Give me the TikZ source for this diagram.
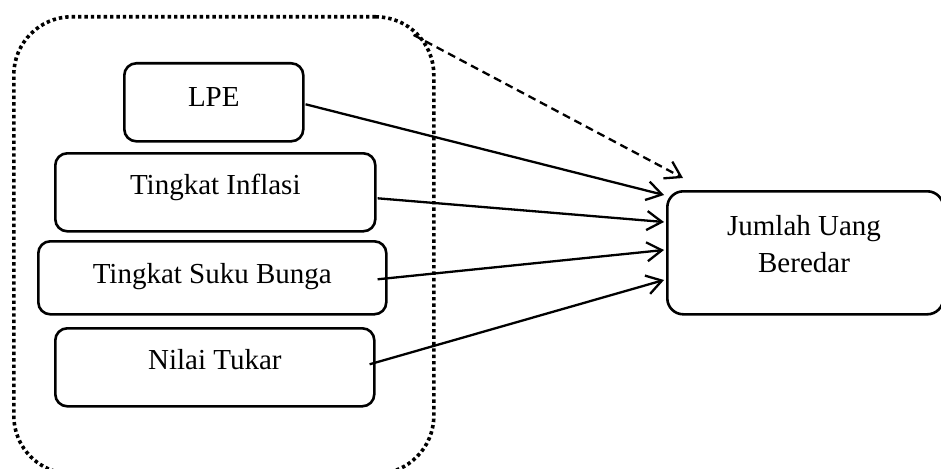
\documentclass[tikz,border=0pt]{standalone}
\usepackage{fontspec}
\setmainfont{Liberation Serif}
\usetikzlibrary{arrows.meta,calc}
\begin{document}
\begin{tikzpicture}[x=1pt,y=-1pt,
  txt/.style={font=\fontsize{29}{37}\selectfont},
  factor/.style={draw, line width=2.6pt, rounded corners=12pt, inner sep=0pt,
    anchor=north west, txt},
  group/.style={draw, line width=3.6pt, dash pattern=on 3.4pt off 3pt,
    rounded corners=58pt, inner sep=0pt, anchor=north west},
  target/.style={draw, line width=2.6pt, rounded corners=16pt, inner sep=0pt,
    anchor=north west},
  link/.style={line width=2.3pt,
    -{Straight Barb[length=15pt,width=19pt,line width=2.3pt]}},
  hint/.style={link, dash pattern=on 8pt off 5pt}]
\clip (0,0) rectangle (941,468);
\fill[white] (0,0) rectangle (941,468);

% dotted grouping of the explanatory variables
\node[group, minimum width=420pt, minimum height=457pt] (grp) at (12,15) {};

% explanatory variables
\node[factor, minimum width=179pt, text height=43pt, text depth=35pt] (lpe) at (123,62) {LPE};
\node[factor, minimum width=320pt, text height=41pt, text depth=37pt] (inf) at (54,152) {Tingkat Inflasi};
\node[factor, minimum width=348pt, text height=42pt, text depth=31pt] (sb) at (37,240) {Tingkat Suku Bunga};
\node[factor, minimum width=319pt, text height=41pt, text depth=37pt] (nt) at (54,327) {Nilai Tukar};

% dependent variable
\node[target, minimum width=276pt, minimum height=123pt] (jub) at (666,190) {};
\node[txt, align=center, inner sep=0pt] (jubtxt) at (804,243.6) {Jumlah Uang\\Beredar};

% influences
\draw[link] ($(lpe.east)+(1,2)$) -- ($(jub.north west)+(-2,5)$);
\draw[link] ($(inf.east)+(1,6)$) -- ($(jub.north west)+(-2,32)$);
\draw[link] ($(sb.east)+(-10,1.5)$) -- ($(jub.north west)+(-2,60)$);
\draw[link] ($(nt.east)+(-6,-3)$) -- ($(jub.north west)+(-2,90)$);

% joint influence
\coordinate (gc) at ($(grp.north east)+(-22,20)$);
\coordinate (jc) at ($(jub.north west)+(17,-12)$);
\draw[hint] (gc) -- (jc);
\end{tikzpicture}
\end{document}
